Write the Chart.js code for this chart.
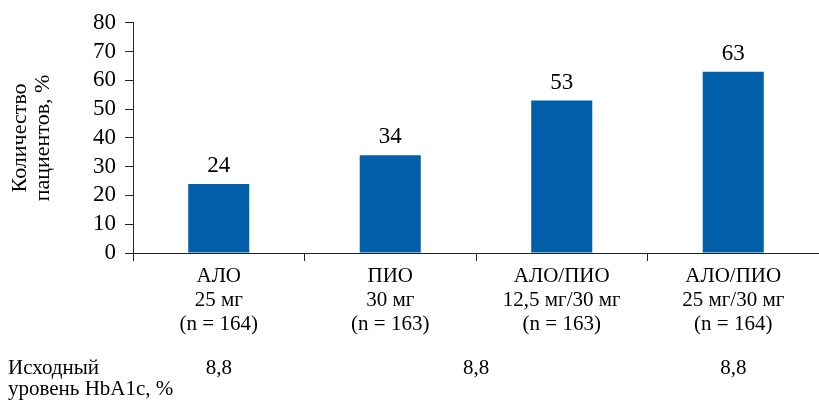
<!DOCTYPE html>
<html><head><meta charset="utf-8">
<script src="https://cdn.jsdelivr.net/npm/chart.js@4/dist/chart.umd.min.js"></script>
<style>html,body{margin:0;padding:0;background:#fff}#wrap{width:819px;height:402px;position:relative}</style>
</head><body><div id="wrap"><canvas id="c" width="819" height="402"></canvas></div>
<script>
const categories = [
  ["АЛО", "25 мг", "(n = 164)"],
  ["ПИО", "30 мг", "(n = 163)"],
  ["АЛО/ПИО", "12,5 мг/30 мг", "(n = 163)"],
  ["АЛО/ПИО", "25 мг/30 мг", "(n = 164)"]
];
const patientsPercent = [24, 34, 53, 63];
const yTicks = [0, 10, 20, 30, 40, 50, 60, 70, 80];
const yTitle = ["Количество", "пациентов, %"];
const baselineLabel = ["Исходный", "уровень HbA1c, %"];
const baselineValues = ["8,8", "8,8", "8,8"];
const baselinePositions = [0, 1.5, 3];

const SERIF = "'Liberation Serif', 'Times New Roman', serif";

const extraText = {
  id: 'extraText',
  afterDatasetsDraw(chart) {
    const ctx = chart.ctx;
    const meta = chart.getDatasetMeta(0);
    ctx.save();
    ctx.fillStyle = '#000';
    ctx.font = '23px ' + SERIF;
    ctx.textAlign = 'center';
    ctx.textBaseline = 'middle';
    meta.data.forEach((bar, i) => {
      ctx.fillText(String(patientsPercent[i]), bar.x, bar.y - 18);
    });
    ctx.font = '21px ' + SERIF;
    ctx.textBaseline = 'alphabetic';
    ctx.textAlign = 'left';
    ctx.fillText(baselineLabel[0], 8, 374);
    ctx.fillText(baselineLabel[1], 8, 395);
    ctx.textAlign = 'center';
    const xs = chart.scales.x;
    baselineValues.forEach((v, i) => {
      ctx.fillText(v, xs.getPixelForValue(baselinePositions[i]), 374);
    });
    ctx.restore();
  }
};

new Chart(document.getElementById('c'), {
  type: 'bar',
  data: {
    labels: categories,
    datasets: [{
      data: patientsPercent,
      backgroundColor: '#005FA8',
      borderWidth: 0,
      categoryPercentage: 1,
      barPercentage: 0.356
    }]
  },
  options: {
    responsive: false,
    devicePixelRatio: 1,
    animation: false,
    layout: { padding: { top: 19, right: 0, bottom: 0, left: 0 } },
    plugins: { legend: { display: false }, tooltip: { enabled: false } },
    scales: {
      x: {
        type: 'category',
        offset: true,
        grid: { offset: true, drawOnChartArea: false, tickLength: 8, color: '#222', lineWidth: 1 },
        border: { color: '#222', width: 1 },
        ticks: {
          color: '#000',
          font: { family: SERIF, size: 21, lineHeight: 1.13 },
          padding: 4,
          maxRotation: 0,
          autoSkip: false
        },
        afterFit(s) { s.height = 149; }
      },
      y: {
        min: 0,
        max: 80,
        afterBuildTicks(s) { s.ticks = yTicks.map(v => ({ value: v })); },
        grid: { drawOnChartArea: false, tickLength: 8, color: '#222', lineWidth: 1 },
        border: { color: '#222', width: 1 },
        ticks: {
          color: '#000',
          font: { family: SERIF, size: 23 },
          padding: 9,
          autoSkip: false
        },
        title: {
          display: true,
          text: yTitle,
          color: '#000',
          font: { family: SERIF, size: 22, lineHeight: 1.05 },
          padding: { top: 9, bottom: 0 }
        },
        afterFit(s) { s.width = 133; }
      }
    }
  },
  plugins: [extraText]
});
</script>
</body></html>
